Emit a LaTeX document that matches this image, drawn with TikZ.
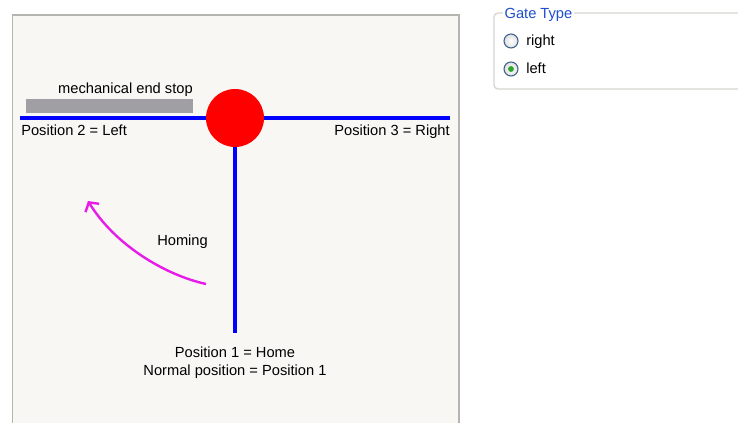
\documentclass[tikz,border=0pt]{standalone}
\usepackage{xcolor}
\usepackage{fontspec}
\setmainfont{Liberation Sans}
\usetikzlibrary{arrows.meta}

\definecolor{panelbg}{HTML}{F8F7F4}
\definecolor{framegray}{HTML}{B4B4B0}
\definecolor{boxgray}{HTML}{D5D5CF}
\definecolor{stopgray}{HTML}{A0A0A4}
\definecolor{xpblue}{HTML}{1F4FD0}
\definecolor{radioedge}{HTML}{3A5F8A}
\definecolor{radiogreen}{HTML}{2BA62B}
\definecolor{homingpink}{HTML}{E81CE8}

\tikzset{
  lbl/.style={inner sep=0pt, font=\fontsize{11}{13.5}\selectfont},
  rail/.style={blue, line width=2.5pt},
  radio/.style={circle, draw=radioedge, line width=0.8pt, inner color=white, outer color=gray!25, minimum size=10.5pt, inner sep=0pt}
}

\begin{document}
\begin{tikzpicture}[x=0.75pt,y=-0.75pt]
\useasboundingbox (0,0) rectangle (738,423);
\fill[white] (0,0) rectangle (738,423);
% drawing panel
\filldraw[fill=panelbg, draw=framegray, line width=1.2pt] (12.5,15) rectangle (459,430);
% gate rails
\coordinate (armL) at (20,118);
\coordinate (armR) at (450,118);
\coordinate (homeEnd) at (235,333);
\draw[rail] (armL) -- (armR);
\draw[rail] (235,118) -- (homeEnd);
\node[circle, fill=red, minimum size=43.5pt, inner sep=0pt] (gate) at (235,118) {};
% end stop
\fill[stopgray] (26,99) rectangle (193,113);
\node[lbl, anchor=base east] (stoplbl) at (193,94) {mechanical end stop};
\node[lbl, anchor=base west] (pos2) at (21,136) {Position 2 = Left};
\node[lbl, anchor=base east] (pos3) at (450,136) {Position 3 = Right};
\node[lbl, anchor=north, align=center] (pos1) at (235,347) {Position 1 = Home\\Normal position = Position 1};
% homing arrow
\coordinate (homStart) at (206,284);
\coordinate (homEnd) at (88,201);
\draw[homingpink, line width=1.8pt, -{Straight Barb[length=5pt,width=12pt]}] (homStart) .. controls (165,275) and (115,245) .. (homEnd);
\node[lbl, anchor=base west] (homing) at (157,246) {Homing};
% gate type box
\draw[boxgray, line width=1pt, rounded corners=3pt] (745,13) -- (494,13) -- (494,89) -- (745,89);
\node[lbl, anchor=base west, text=xpblue, fill=white, inner xsep=1pt] (gatetype) at (503,19) {Gate Type};
\node[radio] (optR) at (511,41) {};
\node[radio] (optL) at (511,69) {};
\fill[radiogreen] (optL) circle (2.2pt);
\node[lbl, anchor=base west] (optRlbl) at (526,46) {right};
\node[lbl, anchor=base west] (optLlbl) at (526,74) {left};
\end{tikzpicture}
\end{document}
